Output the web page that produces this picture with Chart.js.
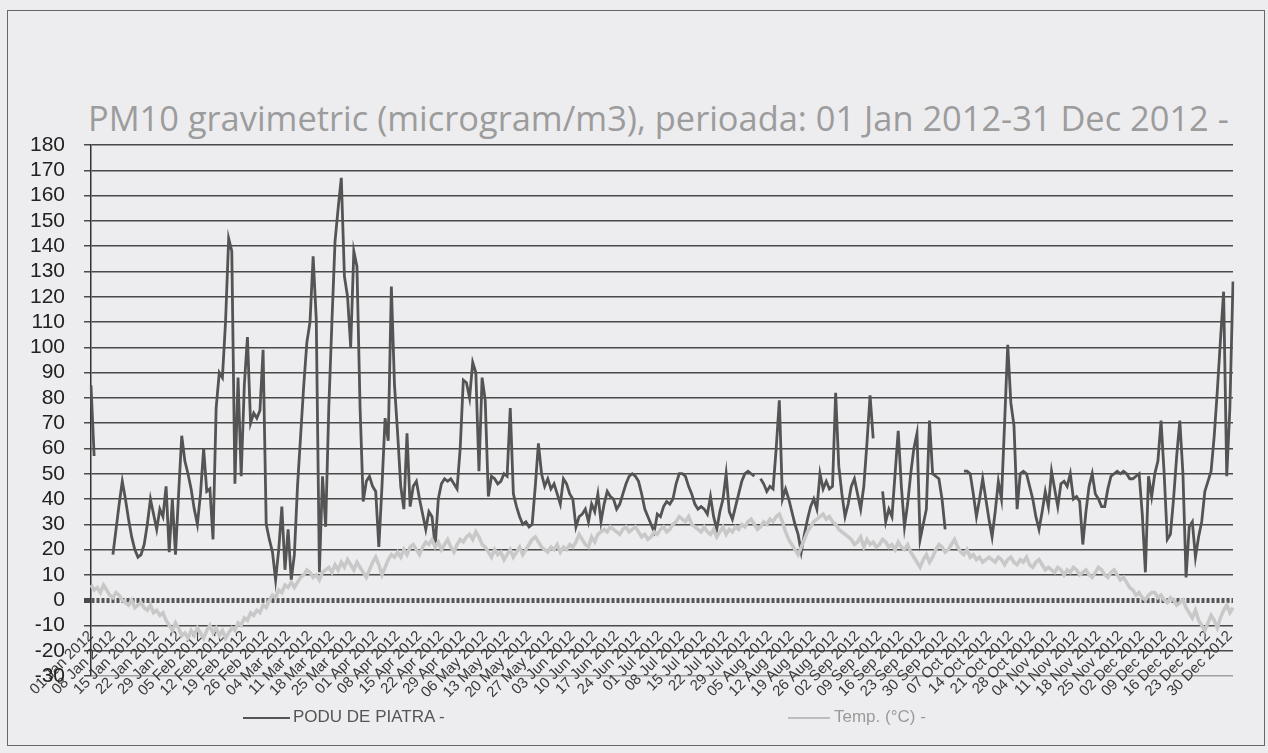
<!DOCTYPE html>
<html>
<head>
<meta charset="utf-8">
<script src="https://cdn.jsdelivr.net/npm/chart.js@4.4.1/dist/chart.umd.min.js"></script>
<style>
    html, body { margin: 0; padding: 0; background: #ededef; }
    #wrap { position: relative; width: 1268px; height: 753px; overflow: hidden; }
    #frame { position: absolute; left: 7px; top: 10px; width: 1256px; height: 734px; border: 1px solid #666; }
    #title { position: absolute; left: 88px; top: 100px; color: #9c9c9c; font-family: "Open Sans", "Noto Sans", sans-serif; font-size: 29px; white-space: nowrap; line-height: 36px; }
    #chart { position: absolute; left: 0; top: 0; }
    .lg { position: absolute; font-family: "Liberation Sans", Arial, sans-serif; font-size: 17px; white-space: nowrap; }
    .lgline { position: absolute; height: 2px; }
</style>
</head>
<body>
<div id="wrap">
    <div id="frame"></div>
    <div id="title">PM10 gravimetric (microgram/m3), perioada: 01 Jan 2012-31 Dec 2012 -</div>
    <canvas id="chart" width="1268" height="753"></canvas>
    <div class="lgline" style="left:243px; top:717px; width:47px; background:#555;"></div>
    <div class="lg" style="left:293px; top:707px; color:#555;">PODU DE PIATRA -</div>
    <div class="lgline" style="left:788px; top:717px; width:42px; background:#bdbdbd;"></div>
    <div class="lg" style="left:834px; top:707px; color:#9a9a9a;">Temp. (°C) -</div>
</div>
<script>
// saptamanal, etichete axa X
const weekLabels = [
    '01 Jan 2012', '08 Jan 2012', '15 Jan 2012', '22 Jan 2012', '29 Jan 2012',
    '05 Feb 2012', '12 Feb 2012', '19 Feb 2012', '26 Feb 2012',
    '04 Mar 2012', '11 Mar 2012', '18 Mar 2012', '25 Mar 2012',
    '01 Apr 2012', '08 Apr 2012', '15 Apr 2012', '22 Apr 2012', '29 Apr 2012',
    '06 May 2012', '13 May 2012', '20 May 2012', '27 May 2012',
    '03 Jun 2012', '10 Jun 2012', '17 Jun 2012', '24 Jun 2012',
    '01 Jul 2012', '08 Jul 2012', '15 Jul 2012', '22 Jul 2012', '29 Jul 2012',
    '05 Aug 2012', '12 Aug 2012', '19 Aug 2012', '26 Aug 2012',
    '02 Sep 2012', '09 Sep 2012', '16 Sep 2012', '23 Sep 2012', '30 Sep 2012',
    '07 Oct 2012', '14 Oct 2012', '21 Oct 2012', '28 Oct 2012',
    '04 Nov 2012', '11 Nov 2012', '18 Nov 2012', '25 Nov 2012',
    '02 Dec 2012', '09 Dec 2012', '16 Dec 2012', '23 Dec 2012', '30 Dec 2012'
];

// PM10 zilnic (microgram/m3), null = lipsa date
const pm10Values = [
    85, 57, null, null, null, null, null, 18, 28, 38,
    47, 40, 32, 25, 20, 17, 18, 22, 30, 40,
    34, 28, 36, 33, 45, 19, 40, 18, 42, 65,
    55, 50, 44, 36, 30, 42, 60, 43, 44, 24,
    76, 90, 88, 110, 143, 138, 46, 88, 49, 85,
    104, 70, 74, 72, 75, 99, 30, 24, 19, 8,
    20, 37, 12, 28, 8, 18, 45, 65, 85, 102,
    110, 136, 111, 11, 49, 29, 76, 110, 142, 155,
    167, 128, 120, 100, 138, 132, 76, 39, 47, 49,
    45, 43, 21, 45, 72, 63, 124, 85, 66, 45,
    36, 66, 37, 45, 47, 40, 34, 28, 35, 33,
    21, 40, 46, 48, 47, 48, 46, 44, 60, 87,
    86, 80, 94, 90, 51, 88, 79, 41, 49, 48,
    46, 47, 50, 49, 76, 42, 37, 33, 30, 31,
    29, 30, 45, 62, 50, 45, 48, 44, 46, 42,
    38, 48, 46, 42, 40, 29, 33, 34, 36, 31,
    38, 35, 42, 31, 38, 43, 41, 40, 36, 38,
    42, 46, 49, 50, 49, 47, 42, 36, 33, 30,
    27, 34, 33, 37, 39, 38, 40, 46, 50, 50,
    49, 45, 42, 38, 36, 37, 36, 34, 41, 33,
    28, 35, 40, 50, 35, 32, 37, 42, 47, 50,
    51, 50, 49, null, 48, 46, 43, 45, 44, 60,
    79, 40, 44, 40, 35, 30, 26, 19, 26, 32,
    37, 40, 36, 50, 44, 47, 44, 45, 82, 53,
    42, 33, 38, 45, 48, 42, 36, 45, 62, 81,
    64, null, null, 43, 31, 36, 33, 50, 67, 45,
    29, 38, 50, 60, 66, 24, 30, 36, 71, 50,
    49, 48, 40, 28, null, null, null, null, null, 51,
    51, 50, 42, 33, 40, 48, 40, 32, 25, 35,
    47, 40, 70, 101, 78, 69, 36, 50, 51, 50,
    45, 40, 33, 28, 35, 43, 37, 51, 44, 37,
    46, 47, 45, 50, 40, 41, 39, 22, 35, 45,
    50, 42, 40, 37, 37, 44, 49, 50, 51, 50,
    51, 50, 48, 48, 49, 50, 34, 11, 49, 41,
    50, 55, 71, 50, 24, 26, 40, 57, 71, 50,
    9, 29, 31, 17, 25, 31, 43, 47, 51, 65,
    83, 103, 122, 49, 76, 126
];

// temperatura zilnica (°C)
const tempValues = [
    6, 4, 5, 3, 6, 4, 2, 1, 3, 2,
    0, -1, -2, 0, -3, -2, -1, -3, -4, -2,
    -5, -4, -6, -5, -8, -10, -12, -9, -11, -14,
    -13, -15, -12, -14, -11, -13, -15, -12, -10, -13,
    -11, -14, -12, -15, -13, -11, -12, -9, -10, -7,
    -8, -5, -6, -4, -5, -2, -3, 0, 2, 1,
    4, 3, 6, 5, 7, 5, 7, 9, 10, 12,
    11, 9, 10, 8, 11, 12, 13, 11, 14, 12,
    15, 13, 16, 14, 12, 15, 13, 11, 9, 12,
    15, 17, 14, 10, 13, 16, 18, 17, 19, 17,
    20, 18, 21, 22, 20, 18, 21, 23, 22, 24,
    21, 23, 20, 22, 24, 21, 19, 22, 24, 23,
    25, 26, 24, 27, 25, 22, 21, 19, 17, 20,
    18, 19, 16, 18, 20, 17, 19, 21, 18, 20,
    22, 24, 25, 23, 21, 20, 19, 21, 20, 22,
    19, 21, 20, 22, 21, 23, 26, 24, 22, 21,
    25, 23, 26, 27, 28, 27, 29, 28, 27, 26,
    28, 29, 27, 28, 29, 27, 25, 26, 24, 25,
    27, 26, 28, 29, 27, 28, 30, 31, 33, 32,
    31, 33, 30, 29, 28, 27, 29, 27, 26, 28,
    25, 27, 29, 26, 28, 27, 29, 28, 30, 29,
    31, 32, 30, 28, 29, 31, 30, 32, 31, 33,
    34, 31, 27, 24, 22, 20, 18, 21, 24, 27,
    29, 31, 32, 33, 34, 32, 33, 31, 30, 28,
    27, 26, 25, 24, 22, 23, 25, 21, 24, 22,
    23, 21, 22, 24, 23, 21, 22, 20, 23, 21,
    20, 22, 19, 17, 15, 13, 16, 18, 15, 17,
    20, 22, 21, 19, 20, 22, 24, 21, 19, 18,
    20, 17, 18, 16, 17, 15, 16, 17, 16, 15,
    17, 16, 14, 16, 17, 15, 14, 16, 15, 17,
    14, 13, 15, 16, 14, 12, 13, 12, 11, 13,
    12, 10, 12, 11, 13, 12, 10, 11, 12, 10,
    9, 11, 13, 12, 10, 9, 11, 12, 10, 8,
    9, 7, 5, 4, 2, 3, 1, 0, 2, 3,
    3, 1, 2, 0, -1, 1, 0, -2, -1, 0,
    -3, -5, -7, -4, -8, -10, -12, -9, -6, -8,
    -11, -7, -4, -2, -5, -3
];

// o zi pe categorie, eticheta doar la fiecare 7 zile
const dayLabels = pm10Values.map((_, i) => (i % 7 === 0 ? weekLabels[i / 7] : ''));

function fitTitle() {
    const el = document.getElementById('title');
    const target = 1142;
    const size = 29 * target / el.offsetWidth;
    el.style.fontSize = size.toFixed(1) + 'px';
}
fitTitle();

const gridColor = ctx => {
    const v = ctx.tick ? ctx.tick.value : null;
    if (v === 0) return '#555';
    if (v === -30) return '#a0a0a0';
    return '#4a4a4a';
};

const ctx = document.getElementById('chart').getContext('2d');
new Chart(ctx, {
    type: 'line',
    data: {
        labels: dayLabels,
        datasets: [
            {
                label: 'Temp. (°C) -',
                data: tempValues,
                borderColor: '#c8c8c8',
                borderWidth: 3.5,
                pointRadius: 0,
                tension: 0,
                spanGaps: false
            },
            {
                label: 'PODU DE PIATRA -',
                data: pm10Values,
                borderColor: '#545454',
                borderWidth: 2.8,
                pointRadius: 0,
                tension: 0,
                spanGaps: false
            }
        ]
    },
    options: {
        responsive: false,
        animation: false,
        layout: {
            padding: { left: 0, right: 35, top: 145, bottom: 77 }
        },
        plugins: {
            legend: { display: false },
            title: { display: false },
            tooltip: { enabled: false }
        },
        scales: {
            x: {
                position: { y: -10 },
                grid: { display: false, drawTicks: false },
                border: { display: false },
                ticks: {
                    autoSkip: false,
                    maxRotation: 45,
                    minRotation: 45,
                    padding: 2,
                    color: '#3a3a3a',
                    font: { family: '"Liberation Sans", Arial, sans-serif', size: 15 },
                    callback: function(value, index) {
                        return dayLabels[index];
                    }
                }
            },
            y: {
                min: -30,
                max: 180,
                afterFit: function(scale) {
                    scale.width = 91;
                },
                ticks: {
                    stepSize: 10,
                    autoSkip: false,
                    padding: 19,
                    color: '#222',
                    font: { family: '"Liberation Sans", Arial, sans-serif', size: 21 }
                },
                grid: {
                    color: gridColor,
                    lineWidth: c => (c.tick && c.tick.value === 0 ? 5 : 1.5),
                    tickLength: 7,
                    tickColor: '#4a4a4a'
                },
                border: {
                    color: '#333',
                    width: 1.5,
                    dash: c => (c.tick && c.tick.value === 0 ? [3, 2] : [])
                }
            }
        }
    }
});
</script>
</body>
</html>
